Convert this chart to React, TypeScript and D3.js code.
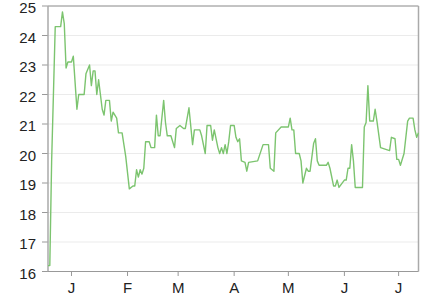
import React from "react";
import * as d3 from "d3";

// day offsets from 2015-01-01 and values
const days: number[] = [
  -13, -12, -11, -9, -6, -5, -4, -3, -2, 0, 1, 3, 4, 7, 8, 10, 11, 12, 13, 14, 15, 16,
  17, 18, 19, 21, 22, 23, 24, 25, 26, 28, 29, 30, 32, 34, 35, 36, 37, 38, 39, 40, 41,
  43, 44, 46, 47, 48, 49, 51, 52, 53, 55, 57, 58, 60, 62, 63, 65, 67, 68, 71, 72, 74,
  75, 77, 78, 79, 81, 82, 83, 84, 85, 86, 87, 88, 90, 91, 92, 93, 94, 96, 97, 98, 103,
  106, 109, 110, 112, 113, 116, 120, 121, 122, 123, 124, 126, 127, 128, 130, 131, 132,
  134, 135, 136, 137, 141, 142, 143, 145, 146, 147, 148, 151, 152, 153, 154, 155, 156,
  157, 161, 162, 163, 164, 165, 167, 168, 169, 171, 176, 177, 179, 180, 181, 182, 184,
  186, 187, 189, 190, 191, 192,
];
const values: number[] = [
  16.2, 16.2, 19.7, 24.3, 24.3, 24.8, 24.4, 22.9, 23.1, 23.1, 23.3, 21.5, 22.0, 22.0,
  22.7, 23.0, 22.3, 22.8, 22.8, 22.0, 22.5, 22.0, 21.5, 21.3, 21.8, 21.8, 21.1, 21.4,
  21.3, 21.2, 20.7, 20.7, 20.3, 19.9, 18.8, 18.9, 18.9, 19.45, 19.2, 19.45, 19.3, 19.5,
  20.4, 20.4, 20.2, 20.2, 21.3, 20.6, 20.6, 21.8, 21.05, 20.6, 20.6, 20.2, 20.85, 20.95,
  20.85, 20.85, 21.55, 20.3, 20.8, 20.8, 20.6, 20.0, 20.95, 20.95, 20.45, 20.8, 20.2,
  20.0, 20.2, 20.0, 20.3, 20.0, 20.4, 20.95, 20.95, 20.55, 20.4, 20.5, 19.75, 19.7, 19.4,
  19.7, 19.75, 20.3, 20.3, 19.5, 19.4, 20.7, 20.9, 20.9, 21.2, 20.8, 20.8, 20.0, 20.0,
  19.75, 19.0, 19.5, 19.4, 19.4, 20.35, 20.5, 19.75, 19.6, 19.6, 19.7, 19.5, 18.9, 18.9,
  19.1, 18.85, 19.1, 19.1, 19.5, 19.5, 20.3, 19.75, 18.85, 18.85, 20.9, 21.05, 22.3,
  21.1, 21.1, 21.5, 21.1, 20.2, 20.1, 20.55, 20.5, 19.8, 19.8, 19.6, 20.0, 21.1, 21.2,
  21.2, 20.8, 20.55, 20.7,
];
const yTicks: number[] = [16, 17, 18, 19, 20, 21, 22, 23, 24, 25];
const monthLabels: string[] = ["J", "F", "M", "A", "M", "J", "J"];

const base = new Date(2015, 0, 1);
const toDate = (d: number) => d3.timeDay.offset(base, d);

export default function App() {
  const W = 432;
  const H = 294;
  const left = 48;
  const right = 418.5;
  const top = 6;
  const bottom = 271.5;

  const data = days.map((d, i) => ({ date: toDate(d), value: values[i] }));
  const x = d3
    .scaleTime()
    .domain([toDate(days[0]), toDate(days[days.length - 1])])
    .range([left, right]);
  const y = d3.scaleLinear().domain([16, 25]).range([bottom, top]);
  const line = d3
    .line<{ date: Date; value: number }>()
    .x((d) => x(d.date))
    .y((d) => y(d.value));

  const monthTicks = monthLabels.map((_, i) => new Date(2015, i, 1));
  const font = "'Liberation Sans', Arial, Helvetica, sans-serif";

  return (
    <svg
      width={W}
      height={H}
      style={{ position: "absolute", left: 0, top: 0, background: "#fff" }}
    >
      {yTicks.map((t) => (
        <g key={t}>
          {t !== 16 && t !== 25 && (
            <line x1={left} x2={right} y1={y(t)} y2={y(t)} stroke="#ebebeb" strokeWidth={1} />
          )}
          <line x1={left - 6} x2={left} y1={y(t)} y2={y(t)} stroke="#999" strokeWidth={1} />
          <text
            x={left - 12}
            y={y(t) + 7}
            textAnchor="end"
            fontFamily={font}
            fontSize={15}
            fill="#222"
          >
            {t}
          </text>
        </g>
      ))}
      {/* frame */}
      <line x1={left} x2={right} y1={top} y2={top} stroke="#888" strokeWidth={1} />
      <line x1={right} x2={right} y1={top} y2={bottom} stroke="#aaa" strokeWidth={1.5} />
      <line x1={left} x2={left} y1={top} y2={bottom} stroke="#aaa" strokeWidth={1.5} />
      <line x1={left} x2={right} y1={bottom} y2={bottom} stroke="#999" strokeWidth={1} />
      {monthTicks.map((m, i) => (
        <g key={i}>
          <line x1={x(m)} x2={x(m)} y1={bottom} y2={bottom + 4.5} stroke="#999" strokeWidth={1} />
          <text
            x={x(m)}
            y={292.5}
            textAnchor="middle"
            fontFamily={font}
            fontSize={15}
            fill="#222"
          >
            {monthLabels[i]}
          </text>
        </g>
      ))}
      <path d={line(data) ?? ""} fill="none" stroke="#7cc46f" strokeWidth={1.4} strokeLinejoin="round" />
    </svg>
  );
}
